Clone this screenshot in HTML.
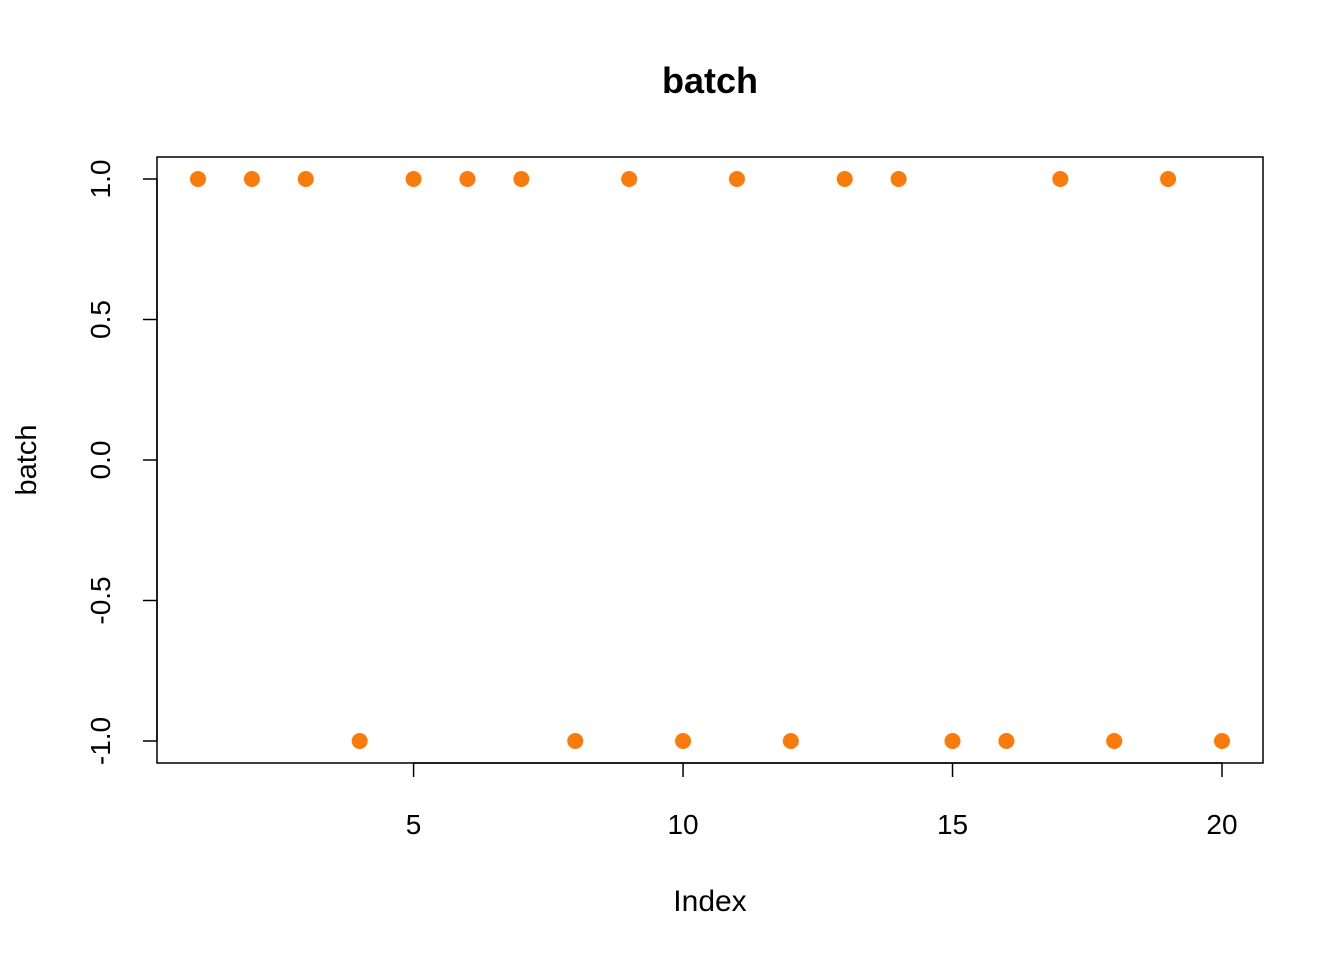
<!DOCTYPE html>
<html><head><meta charset="utf-8"><style>
html,body{margin:0;padding:0;background:#fff;}
svg{display:block;font-family:"Liberation Sans",Arial,sans-serif;}
</style></head><body>
<svg id="chart" width="1344" height="960" viewBox="0 0 1344 960">
<text x="710" y="93" text-anchor="middle" font-size="36" font-weight="bold">batch</text>
<rect x="157" y="157" width="1106" height="606" fill="none" stroke="#000" stroke-width="1.5"/>
<g id="xaxis"></g>
<g id="yaxis"></g>
<text x="710" y="911" text-anchor="middle" font-size="30">Index</text>
<text transform="translate(36,460) rotate(-90)" text-anchor="middle" font-size="29">batch</text>
<g id="points"></g>
</svg>
<script>
const xs = [1,2,3,4,5,6,7,8,9,10,11,12,13,14,15,16,17,18,19,20];
const ys = [1,1,1,-1,1,1,1,-1,1,-1,1,-1,1,1,-1,-1,1,-1,1,-1];
const xTicks = [5,10,15,20];
const yTicks = [-1,-0.5,0,0.5,1];
const yTickLabels = ["-1.0","-0.5","0.0","0.5","1.0"];
const NS="http://www.w3.org/2000/svg";
function sx(v){return 198+(v-1)*(1222-198)/19;}
function sy(v){return 460-v*(741-179)/2;}
function mk(tag,attrs,parent){const e=document.createElementNS(NS,tag);for(const k in attrs)e.setAttribute(k,attrs[k]);parent.appendChild(e);return e;}
const xa=document.getElementById('xaxis'),ya=document.getElementById('yaxis'),pts=document.getElementById('points');
mk('line',{x1:sx(xTicks[0]),x2:sx(xTicks[xTicks.length-1]),y1:763,y2:763,stroke:'#000','stroke-width':1.5},xa);
xTicks.forEach(t=>{
  const l=mk('line',{x1:sx(t),x2:sx(t),y1:763,y2:777,stroke:'#000','stroke-width':1.5},xa);
  
  
  const tx=mk('text',{x:sx(t),y:834,'text-anchor':'middle','font-size':28},xa);
  tx.textContent=t;
  
  
});
mk('line',{x1:157,x2:157,y1:sy(1),y2:sy(-1),stroke:'#000','stroke-width':1.5},ya);
yTicks.forEach((t,i)=>{
  const l=mk('line',{x1:143,x2:157,y1:sy(t),y2:sy(t),stroke:'#000','stroke-width':1.5},ya);
  
  
  const tx=mk('text',{transform:`translate(110,${sy(t)}) rotate(-90)`,'text-anchor':'middle','font-size':28},ya);
  tx.textContent=yTickLabels[i];
  
  
});
xs.forEach((x,i)=>{
  const c=mk('circle',{cx:sx(x),cy:sy(ys[i]),r:8,fill:'#FA7A0A'},pts);
  
  
});
</script>
</body></html>
